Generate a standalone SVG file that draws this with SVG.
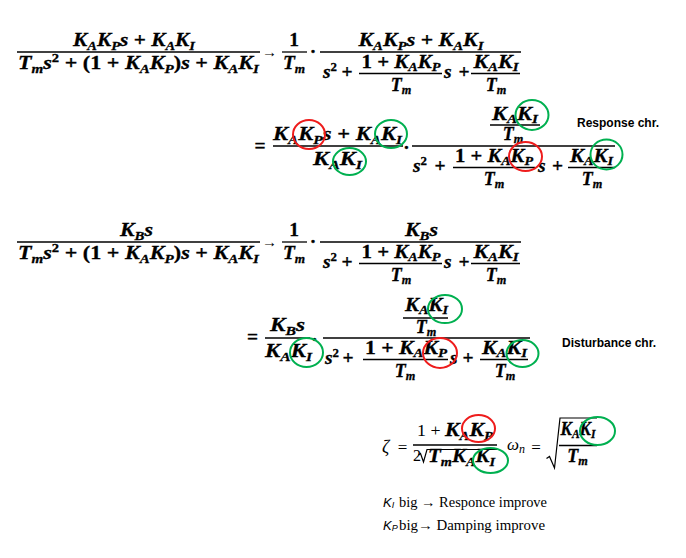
<svg xmlns="http://www.w3.org/2000/svg" width="686" height="558" viewBox="0 0 686 558">
<style>
.m{font-family:"Liberation Serif",serif;font-weight:bold;font-style:italic;font-size:19.5px;fill:#000;stroke:#000;stroke-width:0.3}
.f{font-size:18px}
.sb{font-size:0.68em}
.sp{font-size:0.66em;font-style:normal}
.u{font-style:normal}
.r{font-family:"Liberation Serif","DejaVu Serif",serif;fill:#000}
.ri{font-family:"Liberation Serif",serif;font-style:italic;fill:#000}
.lbl{font-family:"Liberation Sans",Arial,sans-serif;font-weight:bold;font-size:12px;fill:#000}
.si{font-family:"Liberation Sans",Arial,sans-serif;font-style:italic;font-size:13px;fill:#000}
.bar{stroke:#000;stroke-width:1.3;fill:none}
.rad{stroke:#000;stroke-width:1.2;fill:none;stroke-linejoin:miter}
.red{fill:none;stroke:#ee1c1c;stroke-width:2}
.grn{fill:none;stroke:#00b050;stroke-width:2}
</style>

<!-- Equation 1 -->
<g id="eq1">
<text class="m" x="134" y="46" text-anchor="middle" textLength="122" lengthAdjust="spacingAndGlyphs">K<tspan class="sb" dy="4">A</tspan><tspan dy="-4">K</tspan><tspan class="sb" dy="4">P</tspan><tspan dy="-4">s </tspan><tspan class="u">+</tspan><tspan> K</tspan><tspan class="sb" dy="4">A</tspan><tspan dy="-4">K</tspan><tspan class="sb" dy="4">I</tspan></text>
<line class="bar" x1="17" y1="52" x2="260" y2="52"/>
<text class="m" x="18" y="69" textLength="241" lengthAdjust="spacingAndGlyphs">T<tspan class="sb" dy="4">m</tspan><tspan dy="-4">s</tspan><tspan class="sp" dy="-7">2</tspan><tspan class="u" dy="7"> + (1 + </tspan>K<tspan class="sb" dy="4">A</tspan><tspan dy="-4">K</tspan><tspan class="sb" dy="4">P</tspan><tspan class="u" dy="-4">)</tspan>s<tspan class="u"> + </tspan>K<tspan class="sb" dy="4">A</tspan><tspan dy="-4">K</tspan><tspan class="sb" dy="4">I</tspan></text>
<text class="r" x="269.5" y="57" font-size="15" text-anchor="middle" textLength="15" lengthAdjust="spacingAndGlyphs">→</text>
<text class="m u" x="294" y="46" text-anchor="middle">1</text>
<line class="bar" x1="282" y1="52" x2="307" y2="52"/>
<text class="m" x="294" y="68.5" text-anchor="middle">T<tspan class="sb" dy="4">m</tspan></text>
<text class="m u" x="313" y="58" text-anchor="middle">·</text>
<text class="m" x="421" y="46" text-anchor="middle" textLength="125" lengthAdjust="spacingAndGlyphs">K<tspan class="sb" dy="4">A</tspan><tspan dy="-4">K</tspan><tspan class="sb" dy="4">P</tspan><tspan dy="-4">s </tspan><tspan class="u">+</tspan><tspan> K</tspan><tspan class="sb" dy="4">A</tspan><tspan dy="-4">K</tspan><tspan class="sb" dy="4">I</tspan></text>
<line class="bar" x1="320" y1="52" x2="521" y2="52"/>
<text class="m" x="323" y="77.5">s<tspan class="sp" dy="-7">2</tspan></text>
<text class="m u" x="347" y="77.5" text-anchor="middle">+</text>
<text class="m f" x="401" y="68" text-anchor="middle" textLength="79" lengthAdjust="spacingAndGlyphs"><tspan class="u">1 + </tspan>K<tspan class="sb" dy="3">A</tspan><tspan dy="-3">K</tspan><tspan class="sb" dy="3">P</tspan></text>
<line class="bar" x1="359" y1="73.5" x2="442" y2="73.5"/>
<text class="m f" x="401" y="91" text-anchor="middle">T<tspan class="sb" dy="3">m</tspan></text>
<text class="m" x="444" y="77.5">s</text>
<text class="m u" x="464" y="77.5" text-anchor="middle">+</text>
<text class="m f" x="496" y="68" text-anchor="middle" textLength="45" lengthAdjust="spacingAndGlyphs">K<tspan class="sb" dy="3">A</tspan><tspan dy="-3">K</tspan><tspan class="sb" dy="3">I</tspan></text>
<line class="bar" x1="471" y1="73.5" x2="520" y2="73.5"/>
<text class="m f" x="496" y="91" text-anchor="middle">T<tspan class="sb" dy="3">m</tspan></text>
</g>

<!-- Equation 2 -->
<g id="eq2">
<text class="m u" x="260" y="152" text-anchor="middle">=</text>
<text class="m" x="337.5" y="140" text-anchor="middle" textLength="129" lengthAdjust="spacingAndGlyphs">K<tspan class="sb" dy="4">A</tspan><tspan dy="-4">K</tspan><tspan class="sb" dy="4">P</tspan><tspan dy="-4">s </tspan><tspan class="u">+</tspan><tspan> K</tspan><tspan class="sb" dy="4">A</tspan><tspan dy="-4">K</tspan><tspan class="sb" dy="4">I</tspan></text>
<line class="bar" x1="273" y1="146" x2="403" y2="146"/>
<text class="m" x="337.5" y="165" text-anchor="middle" textLength="49" lengthAdjust="spacingAndGlyphs">K<tspan class="sb" dy="4">A</tspan><tspan dy="-4">K</tspan><tspan class="sb" dy="4">I</tspan></text>
<text class="m u" x="406.5" y="149" text-anchor="middle">.</text>
<line class="bar" x1="412" y1="146" x2="615" y2="146"/>
<text class="m f" x="515" y="119.5" text-anchor="middle" textLength="46" lengthAdjust="spacingAndGlyphs">K<tspan class="sb" dy="3">A</tspan><tspan dy="-3">K</tspan><tspan class="sb" dy="3">I</tspan></text>
<line class="bar" x1="490" y1="125" x2="540" y2="125"/>
<text class="m f" x="513" y="140" text-anchor="middle">T<tspan class="sb" dy="3">m</tspan></text>
<text class="m" x="413" y="171.5">s<tspan class="sp" dy="-7">2</tspan></text>
<text class="m u" x="440" y="171.5" text-anchor="middle">+</text>
<text class="m f" x="494" y="162" text-anchor="middle" textLength="78" lengthAdjust="spacingAndGlyphs"><tspan class="u">1 + </tspan>K<tspan class="sb" dy="3">A</tspan><tspan dy="-3">K</tspan><tspan class="sb" dy="3">P</tspan></text>
<line class="bar" x1="453" y1="167.5" x2="535" y2="167.5"/>
<text class="m f" x="494" y="185" text-anchor="middle">T<tspan class="sb" dy="3">m</tspan></text>
<text class="m" x="538" y="171.5">s</text>
<text class="m u" x="557.5" y="171.5" text-anchor="middle">+</text>
<text class="m f" x="591.5" y="162" text-anchor="middle" textLength="43" lengthAdjust="spacingAndGlyphs">K<tspan class="sb" dy="3">A</tspan><tspan dy="-3">K</tspan><tspan class="sb" dy="3">I</tspan></text>
<line class="bar" x1="568" y1="167.5" x2="615" y2="167.5"/>
<text class="m f" x="592" y="185" text-anchor="middle">T<tspan class="sb" dy="3">m</tspan></text>
<text class="lbl" x="577" y="127">Response chr.</text>
</g>

<!-- Equation 3 -->
<g id="eq3" transform="translate(0,190)">
<text class="m" x="136.5" y="46" text-anchor="middle" textLength="33" lengthAdjust="spacingAndGlyphs">K<tspan class="sb" dy="4">B</tspan><tspan dy="-4">s</tspan></text>
<line class="bar" x1="17" y1="52" x2="260" y2="52"/>
<text class="m" x="18" y="69" textLength="241" lengthAdjust="spacingAndGlyphs">T<tspan class="sb" dy="4">m</tspan><tspan dy="-4">s</tspan><tspan class="sp" dy="-7">2</tspan><tspan class="u" dy="7"> + (1 + </tspan>K<tspan class="sb" dy="4">A</tspan><tspan dy="-4">K</tspan><tspan class="sb" dy="4">P</tspan><tspan class="u" dy="-4">)</tspan>s<tspan class="u"> + </tspan>K<tspan class="sb" dy="4">A</tspan><tspan dy="-4">K</tspan><tspan class="sb" dy="4">I</tspan></text>
<text class="r" x="269.5" y="57" font-size="15" text-anchor="middle" textLength="15" lengthAdjust="spacingAndGlyphs">→</text>
<text class="m u" x="294" y="46" text-anchor="middle">1</text>
<line class="bar" x1="282" y1="52" x2="307" y2="52"/>
<text class="m" x="294" y="68.5" text-anchor="middle">T<tspan class="sb" dy="4">m</tspan></text>
<text class="m u" x="313" y="58" text-anchor="middle">·</text>
<text class="m" x="421.5" y="46" text-anchor="middle" textLength="33" lengthAdjust="spacingAndGlyphs">K<tspan class="sb" dy="4">B</tspan><tspan dy="-4">s</tspan></text>
<line class="bar" x1="320" y1="52" x2="521" y2="52"/>
<text class="m" x="323" y="77.5">s<tspan class="sp" dy="-7">2</tspan></text>
<text class="m u" x="347" y="77.5" text-anchor="middle">+</text>
<text class="m f" x="401" y="68" text-anchor="middle" textLength="79" lengthAdjust="spacingAndGlyphs"><tspan class="u">1 + </tspan>K<tspan class="sb" dy="3">A</tspan><tspan dy="-3">K</tspan><tspan class="sb" dy="3">P</tspan></text>
<line class="bar" x1="359" y1="73.5" x2="442" y2="73.5"/>
<text class="m f" x="401" y="91" text-anchor="middle">T<tspan class="sb" dy="3">m</tspan></text>
<text class="m" x="444" y="77.5">s</text>
<text class="m u" x="464" y="77.5" text-anchor="middle">+</text>
<text class="m f" x="496" y="68" text-anchor="middle" textLength="45" lengthAdjust="spacingAndGlyphs">K<tspan class="sb" dy="3">A</tspan><tspan dy="-3">K</tspan><tspan class="sb" dy="3">I</tspan></text>
<line class="bar" x1="471" y1="73.5" x2="520" y2="73.5"/>
<text class="m f" x="496" y="91" text-anchor="middle">T<tspan class="sb" dy="3">m</tspan></text>
</g>

<!-- Equation 4 -->
<g id="eq4">
<text class="m u" x="252.5" y="343" text-anchor="middle">=</text>
<text class="m" x="287.5" y="331" text-anchor="middle" textLength="35" lengthAdjust="spacingAndGlyphs">K<tspan class="sb" dy="4">B</tspan><tspan dy="-4">s</tspan></text>
<line class="bar" x1="265" y1="338" x2="310" y2="338"/>
<text class="m" x="288.5" y="357" text-anchor="middle" textLength="47" lengthAdjust="spacingAndGlyphs">K<tspan class="sb" dy="4">A</tspan><tspan dy="-4">K</tspan><tspan class="sb" dy="4">I</tspan></text>
<text class="m u" x="314.5" y="341" text-anchor="middle">.</text>
<line class="bar" x1="323" y1="338" x2="530" y2="338"/>
<text class="m f" x="426.5" y="311" text-anchor="middle" textLength="43" lengthAdjust="spacingAndGlyphs">K<tspan class="sb" dy="3">A</tspan><tspan dy="-3">K</tspan><tspan class="sb" dy="3">I</tspan></text>
<line class="bar" x1="403" y1="318" x2="448" y2="318"/>
<text class="m f" x="426" y="333" text-anchor="middle">T<tspan class="sb" dy="3">m</tspan></text>
<text class="m" x="325" y="363.5">s<tspan class="sp" dy="-7">2</tspan></text>
<text class="m u" x="348" y="363.5" text-anchor="middle">+</text>
<text class="m f" x="406" y="354" text-anchor="middle" textLength="82" lengthAdjust="spacingAndGlyphs"><tspan class="u">1 + </tspan>K<tspan class="sb" dy="3">A</tspan><tspan dy="-3">K</tspan><tspan class="sb" dy="3">P</tspan></text>
<line class="bar" x1="363" y1="359.5" x2="448" y2="359.5"/>
<text class="m f" x="405" y="377" text-anchor="middle">T<tspan class="sb" dy="3">m</tspan></text>
<text class="m" x="450" y="363.5">s</text>
<text class="m u" x="468" y="363.5" text-anchor="middle">+</text>
<text class="m f" x="504.5" y="354" text-anchor="middle" textLength="45" lengthAdjust="spacingAndGlyphs">K<tspan class="sb" dy="3">A</tspan><tspan dy="-3">K</tspan><tspan class="sb" dy="3">I</tspan></text>
<line class="bar" x1="480" y1="359.5" x2="528" y2="359.5"/>
<text class="m f" x="505" y="377" text-anchor="middle">T<tspan class="sb" dy="3">m</tspan></text>
<text class="lbl" x="562" y="347">Disturbance chr.</text>
</g>

<!-- Damping ratio and natural frequency -->
<g id="zeta">
<text class="ri" x="382" y="453" font-size="18">ζ</text>
<text class="r" x="402.5" y="453" font-size="17" text-anchor="middle">=</text>
<text class="m" x="417" y="435.5" textLength="76" lengthAdjust="spacingAndGlyphs"><tspan class="u" font-weight="normal" stroke-width="0" font-size="16">1 + </tspan>K<tspan class="sb" dy="4">A</tspan><tspan dy="-4">K</tspan><tspan class="sb" dy="4">P</tspan></text>
<line class="bar" x1="413" y1="445" x2="497" y2="445"/>
<text class="r" x="413" y="461" font-size="16">2</text>
<polyline class="rad" points="418.5,455 420.5,453.5 423.5,462 427,449.5 497,449.5"/>
<text class="m" x="428" y="462" textLength="67" lengthAdjust="spacingAndGlyphs">T<tspan class="sb" dy="4">m</tspan><tspan dy="-4">K</tspan><tspan class="sb" dy="4">A</tspan><tspan dy="-4">K</tspan><tspan class="sb" dy="4">I</tspan></text>
<text class="ri" x="507" y="450" font-size="17">ω<tspan font-size="12" dy="3">n</tspan></text>
<text class="r" x="536" y="453" font-size="17" text-anchor="middle">=</text>
<polyline class="rad" points="546.5,458.5 549.5,456.5 554.5,468 560,418 597,418"/>
<text class="m f" x="578" y="435" text-anchor="middle" textLength="35" lengthAdjust="spacingAndGlyphs">K<tspan class="sb" dy="3">A</tspan><tspan dy="-3">K</tspan><tspan class="sb" dy="3">I</tspan></text>
<line class="bar" x1="559" y1="445.5" x2="597" y2="445.5"/>
<text class="m f" x="577.5" y="462" text-anchor="middle">T<tspan class="sb" dy="3">m</tspan></text>
</g>

<!-- Notes -->
<g id="notes">
<text class="si" x="383" y="507">K<tspan font-size="9" dy="1">I</tspan></text>
<text class="r" x="399" y="507" font-size="14" textLength="148" lengthAdjust="spacingAndGlyphs">big → Responce improve</text>
<text class="si" x="383" y="530">K<tspan font-size="9" dy="1">P</tspan></text>
<text class="r" x="399" y="530" font-size="14" textLength="146" lengthAdjust="spacingAndGlyphs">big→ Damping improve</text>
</g>

<!-- Highlight circles -->
<g id="marks">
<ellipse class="red" cx="309" cy="134.5" rx="16" ry="14.5"/>
<ellipse class="grn" cx="391" cy="134" rx="16" ry="14"/>
<ellipse class="grn" cx="349.5" cy="161.5" rx="16.5" ry="13.5"/>
<ellipse class="grn" cx="532" cy="115" rx="16.5" ry="15"/>
<ellipse class="red" cx="525.5" cy="156.5" rx="16.5" ry="14.5"/>
<ellipse class="grn" cx="606.5" cy="154.5" rx="16" ry="15"/>
<ellipse class="grn" cx="306.5" cy="352.5" rx="16.5" ry="14.5"/>
<ellipse class="grn" cx="445" cy="309" rx="17" ry="14"/>
<ellipse class="red" cx="440" cy="353" rx="17" ry="15"/>
<ellipse class="grn" cx="522.5" cy="353.5" rx="16" ry="13.5"/>
<ellipse class="red" cx="478.5" cy="428.5" rx="16.5" ry="13.5"/>
<ellipse class="grn" cx="490.5" cy="460.5" rx="17.5" ry="12.5"/>
<ellipse class="grn" cx="597.5" cy="431" rx="17.5" ry="14"/>
</g>
</svg>
